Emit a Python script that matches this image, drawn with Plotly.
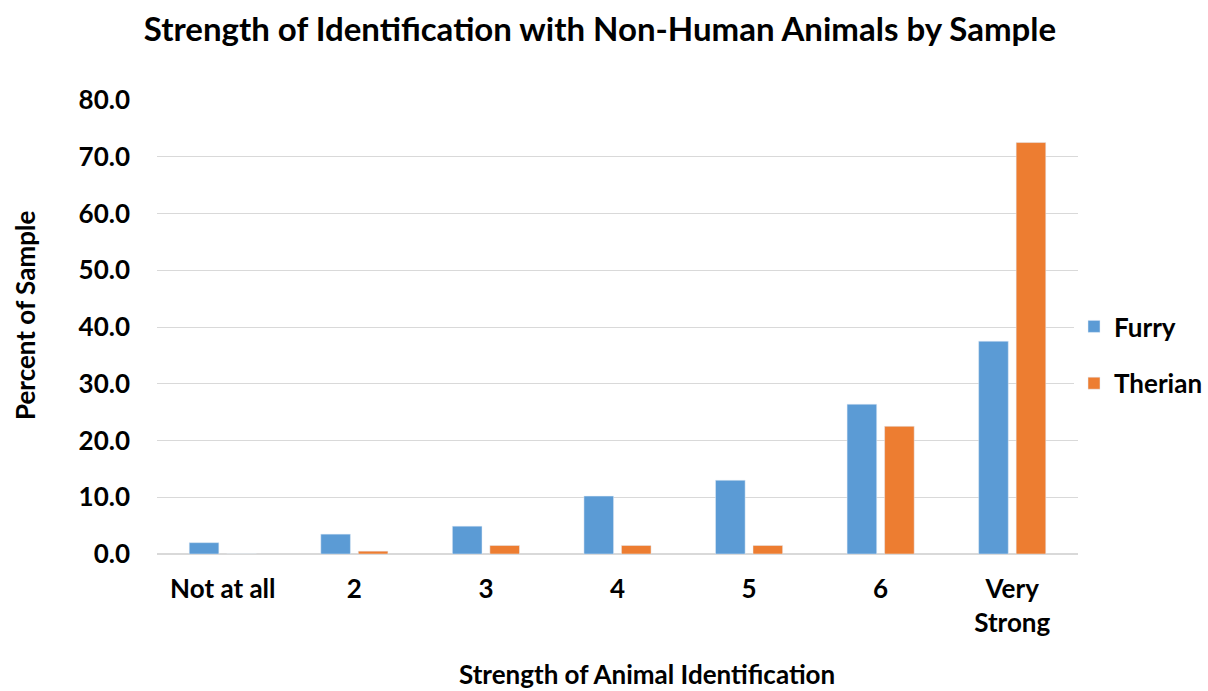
import plotly.graph_objects as go

categories = ["Not at all", "2", "3", "4", "5", "6", "Very<br>Strong"]
furry = [2.0, 3.5, 4.9, 10.2, 13.0, 26.4, 37.5]
therian = [0.0, 0.5, 1.5, 1.5, 1.5, 22.5, 72.5]

FONT = "Lato"
LBL = 26

fig = go.Figure()
fig.add_trace(go.Bar(x=categories, y=furry, name="<b>Furry</b>", marker_color="#5B9BD5",
                     legendgroup="a"))
fig.add_trace(go.Bar(x=categories, y=therian, name="<b>Therian</b>", marker_color="#ED7D31",
                     legendgroup="b"))

fig.update_layout(
    width=1208, height=691,
    paper_bgcolor="white", plot_bgcolor="white",
    margin=dict(l=157, r=130, t=100, b=137, autoexpand=False),
    font=dict(family=FONT, color="black"),
    title=dict(text="<b>Strength of Identification with Non-Human Animals by Sample</b>",
               x=600 / 1208, xref="container", xanchor="center", y=0.957, yanchor="middle",
               font=dict(size=33, family=FONT)),
    barmode="group", bargap=0.43, bargroupgap=0.21,
    legend=dict(x=1074 / 1208, xref="container", y=1 - 355 / 691, yref="container",
                xanchor="left", yanchor="middle",
                font=dict(size=LBL, family=FONT), tracegroupgap=20,
                itemwidth=30),
    xaxis=dict(tickfont=dict(size=LBL), ticks="", showline=True,
               linecolor="#d9d9d9", linewidth=1, ticklabelstandoff=12,
               tickprefix="<b>", ticksuffix="</b>"),
    yaxis=dict(range=[0, 80], dtick=10, tickformat=".1f",
               tickfont=dict(size=LBL), gridcolor="#d9d9d9", gridwidth=1,
               zeroline=True, zerolinecolor="#d9d9d9", ticks="",
               ticklabelstandoff=26,
               tickprefix="<b>", ticksuffix="</b>"),
    annotations=[
        dict(text="<b>Strength of Animal Identification</b>", xref="paper", yref="paper",
             x=(647 - 157) / (1078 - 157), y=(554 - 674) / 454, xanchor="center",
             yanchor="middle", showarrow=False, font=dict(size=LBL)),
        dict(text="<b>Percent of Sample</b>", xref="paper", yref="paper",
             x=(25 - 157) / (1078 - 157), y=(554 - 316) / 454, xanchor="center",
             yanchor="middle", showarrow=False, textangle=-90, font=dict(size=LBL)),
    ],
)

fig.write_html("out.html", config={"displayModeBar": False},
               post_script="document.body.style.margin='0';")
